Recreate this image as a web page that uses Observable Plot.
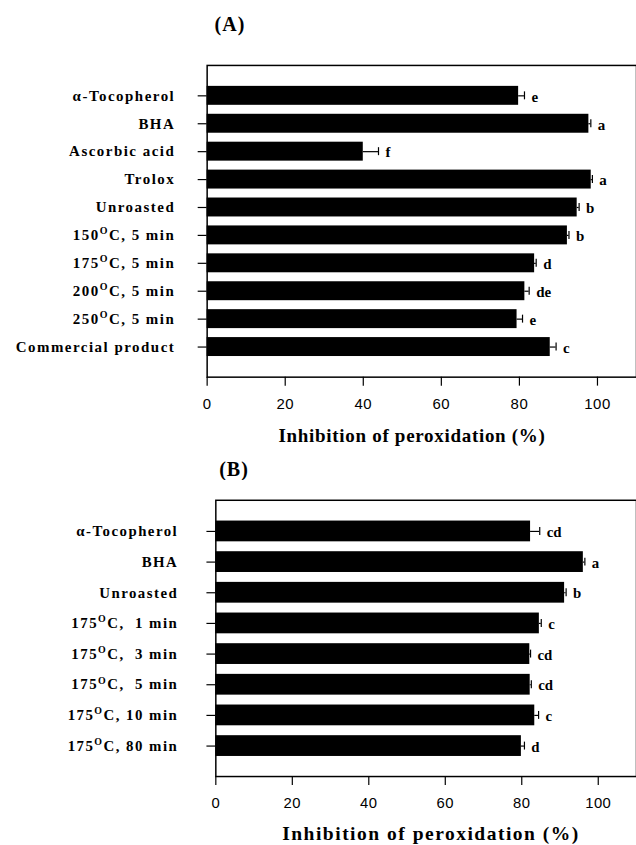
<!DOCTYPE html>
<html>
<head>
<meta charset="utf-8">
<script src="https://cdn.jsdelivr.net/npm/d3@7"></script>
<script src="https://cdn.jsdelivr.net/npm/@observablehq/plot@0.6"></script>
<style>
  html, body { margin: 0; padding: 0; background: #fff; overflow: hidden; }
  #page { position: relative; width: 636px; height: 845px; overflow: hidden; }
  .lbl { position: absolute; font-family: 'Liberation Serif', 'Times New Roman', serif; font-weight: bold; line-height: 1; white-space: nowrap; color: #000; }
  .chart { position: absolute; left: 0; }
  .chart svg { overflow: visible; }
</style>
</head>
<body>
<div id="page">
  <div class="lbl" id="tA" style="font-size:20px; left:230px; top:14px; transform:translateX(-50%); letter-spacing:1px;">(A)</div>
  <div class="chart" id="cA" style="top:45px;"></div>
  <div class="lbl" id="xA" style="font-size:19px; left:412px; top:426px; transform:translateX(-50%); letter-spacing:0.7px;">Inhibition of peroxidation (%)</div>
  <div class="lbl" id="tB" style="font-size:20px; left:234px; top:459px; transform:translateX(-50%); letter-spacing:1px;">(B)</div>
  <div class="chart" id="cB" style="top:480px;"></div>
  <div class="lbl" id="xB" style="font-size:19.5px; left:431px; top:824px; transform:translateX(-50%); letter-spacing:1.5px;">Inhibition of peroxidation (%)</div>
</div>
<script>
// ---- Panel A data ----
const labelsA = ["α-Tocopherol", "BHA", "Ascorbic acid", "Trolox", "Unroasted",
  "150°C, 5 min", "175°C, 5 min", "200°C, 5 min", "250°C, 5 min", "Commercial product"];
const valuesA = [79.8, 97.8, 40.0, 98.4, 94.8, 92.3, 83.9, 81.4, 79.4, 87.9];
const errorsA = [1.5, 0.5, 3.9, 0.3, 0.5, 0.4, 0.4, 1.1, 1.4, 1.5];
const lettersA = ["e", "a", "f", "a", "b", "b", "d", "de", "e", "c"];

// ---- Panel B data ----
const labelsB = ["α-Tocopherol", "BHA", "Unroasted", "175°C,  1 min", "175°C,  3 min",
  "175°C,  5 min", "175°C, 10 min", "175°C, 80 min"];
const valuesB = [82.3, 96.1, 91.2, 84.6, 82.1, 82.2, 83.4, 79.9];
const errorsB = [2.4, 0.4, 0.4, 0.5, 0.2, 0.3, 1.0, 0.8];
const lettersB = ["cd", "a", "b", "c", "cd", "cd", "c", "d"];

const xTicks = [0, 20, 40, 60, 80, 100];
const xDomain = [0, 110];

const serif = "'Liberation Serif', 'Times New Roman', serif";
const sans = "'Liberation Sans', Arial, Helvetica, sans-serif";

function makeRows(labels, values, errors, letters) {
  return labels.map((label, i) => ({label, value: values[i], err: errors[i], hi: values[i] + errors[i], letter: letters[i]}));
}

function panel(rows, labels, opts) {
  const plot = Plot.plot({
    width: opts.width,
    height: opts.height,
    marginLeft: opts.marginLeft,
    marginRight: 0,
    marginTop: opts.marginTop,
    marginBottom: opts.marginBottom,
    style: {background: "white", color: "black", overflow: "visible"},
    x: {domain: xDomain, ticks: xTicks, label: null},
    y: {domain: labels, paddingInner: 0.32, paddingOuter: 0.66, label: null},
    marks: [
      Plot.barX(rows, {x: "value", y: "label", fill: "black"}),
      Plot.ruleY(rows, {x1: "value", x2: "hi", y: "label", stroke: "black", strokeWidth: 1.2}),
      Plot.tickX(rows, {x: "hi", y: "label", stroke: "black", strokeWidth: 1.2, insetTop: opts.capInset, insetBottom: opts.capInset}),
      Plot.text(rows, {x: "hi", y: "label", text: "letter", textAnchor: "start", dx: 7, dy: 1,
        fontFamily: serif, fontWeight: "bold", fontSize: 15, fill: "black"}),
      Plot.frame({stroke: "black", strokeWidth: 1.5}),
      Plot.axisX({ticks: xTicks, tickSize: 9, tickPadding: 12, fontFamily: sans, fontSize: 15, label: null, strokeWidth: 1.2}),
      Plot.axisY({tickSize: 9, tickPadding: opts.tickPadY, fontFamily: serif, fontWeight: "bold", fontSize: 15, label: null, strokeWidth: 1.2})
    ]
  });
  // style y tick labels: letter spacing and superscript "O" for degree
  plot.querySelectorAll("text").forEach(t => {
    const s = t.textContent;
    if (labels.includes(s)) {
      t.style.letterSpacing = "1.5px";
      t.setAttribute("xml:space", "preserve");
      t.style.whiteSpace = "pre";
      if (s.includes("°")) {
        const [a, b] = s.split("°");
        while (t.firstChild) t.removeChild(t.firstChild);
        const ns = "http://www.w3.org/2000/svg";
        const t1 = document.createElementNS(ns, "tspan"); t1.textContent = a;
        const t2 = document.createElementNS(ns, "tspan"); t2.textContent = "O";
        t2.setAttribute("dy", "-6"); t2.setAttribute("font-size", "10");
        const t3 = document.createElementNS(ns, "tspan"); t3.textContent = b;
        t3.setAttribute("dy", "6");
        t.append(t1, t2, t3);
      }
    }
  });
  plot.querySelectorAll("text").forEach(t => {
    if (xTicks.map(String).includes(t.textContent)) t.style.letterSpacing = "0.5px";
  });
  return plot;
}

const rowsA = makeRows(labelsA, valuesA, errorsA, lettersA);
const rowsB = makeRows(labelsB, valuesB, errorsB, lettersB);

document.getElementById("cA").append(panel(rowsA, labelsA, {
  width: 638, height: 367.7, marginLeft: 207.3, marginTop: 20, marginBottom: 35, tickPadY: 23, capInset: 5.5
}));
document.getElementById("cB").append(panel(rowsB, labelsB, {
  width: 643, height: 334.3, marginLeft: 217.7, marginTop: 20, marginBottom: 35, tickPadY: 29, capInset: 6.5
}));
</script>
</body>
</html>
